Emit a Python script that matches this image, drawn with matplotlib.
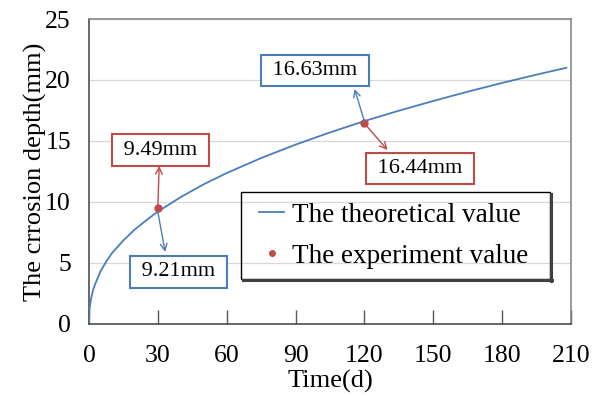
import matplotlib
matplotlib.use("Agg")
import matplotlib.pyplot as plt
from matplotlib.lines import Line2D
from matplotlib.patches import Rectangle

# ---- data ----
time_theory = [0, 0.2, 0.5, 1, 2, 3, 5, 7.5, 10, 15, 20, 25, 30, 40, 50, 60, 75, 90,
               105, 120, 135, 150, 165, 180, 195, 208]
depth_theory = [0, 1.1, 1.6, 2.15, 2.9, 3.4, 4.3, 5.1, 5.8, 6.85, 7.75, 8.5, 9.21, 10.4,
                11.45, 12.37, 13.6, 14.7, 15.7, 16.63, 17.48, 18.28, 19.04, 19.76, 20.44, 21.0]
time_exp = [30, 120]
depth_exp = [9.49, 16.44]
theory_labels = ["9.21mm", "16.63mm"]
exp_labels = ["9.49mm", "16.44mm"]
x_ticks = [0, 30, 60, 90, 120, 150, 180, 210]
y_ticks = [0, 5, 10, 15, 20, 25]

BLUE = "#4a7ebb"
RED = "#be4b48"

plt.rcParams["font.family"] = ["Liberation Serif", "DejaVu Serif"]

fig = plt.figure(figsize=(6.01, 3.96), dpi=100)
ax = fig.add_axes([0.148, 0.182, 0.802, 0.770])

ax.plot(time_theory, depth_theory, color=BLUE, lw=1.3, label="The theoretical value", zorder=3)
ax.plot(time_exp, depth_exp, ls="none", marker="o", ms=5, color=RED,
        label="The experiment value", zorder=4)

ax.set_xlim(0, 210)
ax.set_ylim(0, 25)
ax.set_xticks(x_ticks)
ax.set_yticks(y_ticks)
ax.grid(axis="y", color="#d9d9d9", lw=0.9)
ax.set_axisbelow(True)

ax.tick_params(axis="x", direction="in", length=10, width=1, color="#595959",
               labelsize=18.5, pad=15)
ax.tick_params(axis="y", length=0, labelsize=18.5, pad=13)
for s in ["top", "right"]:
    ax.spines[s].set_color("#808080")
for s in ["left", "bottom"]:
    ax.spines[s].set_color("#404040")
for s in ax.spines.values():
    s.set_linewidth(1.1)

ax.set_xlabel("Time(d)", fontsize=19, labelpad=2)
ax.set_ylabel("The crrosion depth(mm)", fontsize=19, labelpad=-1)


def box_annot(x, y, text, ax_end, ay_end, tx, ty, color):
    # arrow from the data point to the box edge
    ax.annotate("", xy=(ax_end, ay_end), xytext=(x, y), textcoords="data",
                arrowprops=dict(arrowstyle="->", color=color, lw=1,
                                shrinkA=0, shrinkB=0, mutation_scale=12),
                zorder=5)
    ax.text(tx, ty, " " + text + " ", fontsize=16, ha="center", va="center", zorder=6,
            bbox=dict(boxstyle="square,pad=0.28", fc="white", ec=color, lw=1.5))


box_annot(time_exp[0], depth_exp[0], exp_labels[0], 30.6, 12.95, 31.0, 14.26, RED)
box_annot(time_theory[12], depth_theory[12], theory_labels[0], 33.2, 5.9, 38.9, 4.26, BLUE)
box_annot(time_theory[19], depth_theory[19], theory_labels[1], 115.7, 19.26, 98.5, 20.8, BLUE)
box_annot(time_exp[1], depth_exp[1], exp_labels[1], 130.1, 14.26, 144.3, 12.75, RED)

# legend without its own frame; frame drawn separately
leg = ax.legend(loc="upper left", bbox_to_anchor=(0.3527, 0.398), fontsize=19.5,
                frameon=False, handlelength=0.93, borderpad=0,
                labelspacing=0.6, handletextpad=0.3, borderaxespad=0,
                markerscale=0.8)
frame_x0, frame_x1, frame_y0, frame_y1 = 0.3154, 0.9564, 0.1475, 0.4328
ax.add_patch(Rectangle((frame_x0, frame_y0), frame_x1 - frame_x0, frame_y1 - frame_y0,
                       transform=ax.transAxes, fc="none", ec="black", lw=1.0, zorder=7))

# manual shadow for the legend frame
fig.canvas.draw()
p0 = ax.transAxes.transform((frame_x0, frame_y0))
p1 = ax.transAxes.transform((frame_x1, frame_y1))
W, H = fig.bbox.width, fig.bbox.height
off = 2.5
sh = dict(color="#404040", lw=2.2, transform=fig.transFigure, zorder=2)
fig.add_artist(Line2D([(p0[0] + off) / W, (p1[0] + off) / W],
                      [(p0[1] - off / 2) / H, (p0[1] - off / 2) / H], **sh))
fig.add_artist(Line2D([(p1[0] + off / 2) / W, (p1[0] + off / 2) / W],
                      [(p0[1] - off) / H, (p1[1] - off) / H], **sh))

fig.savefig("out.png", dpi=100)
